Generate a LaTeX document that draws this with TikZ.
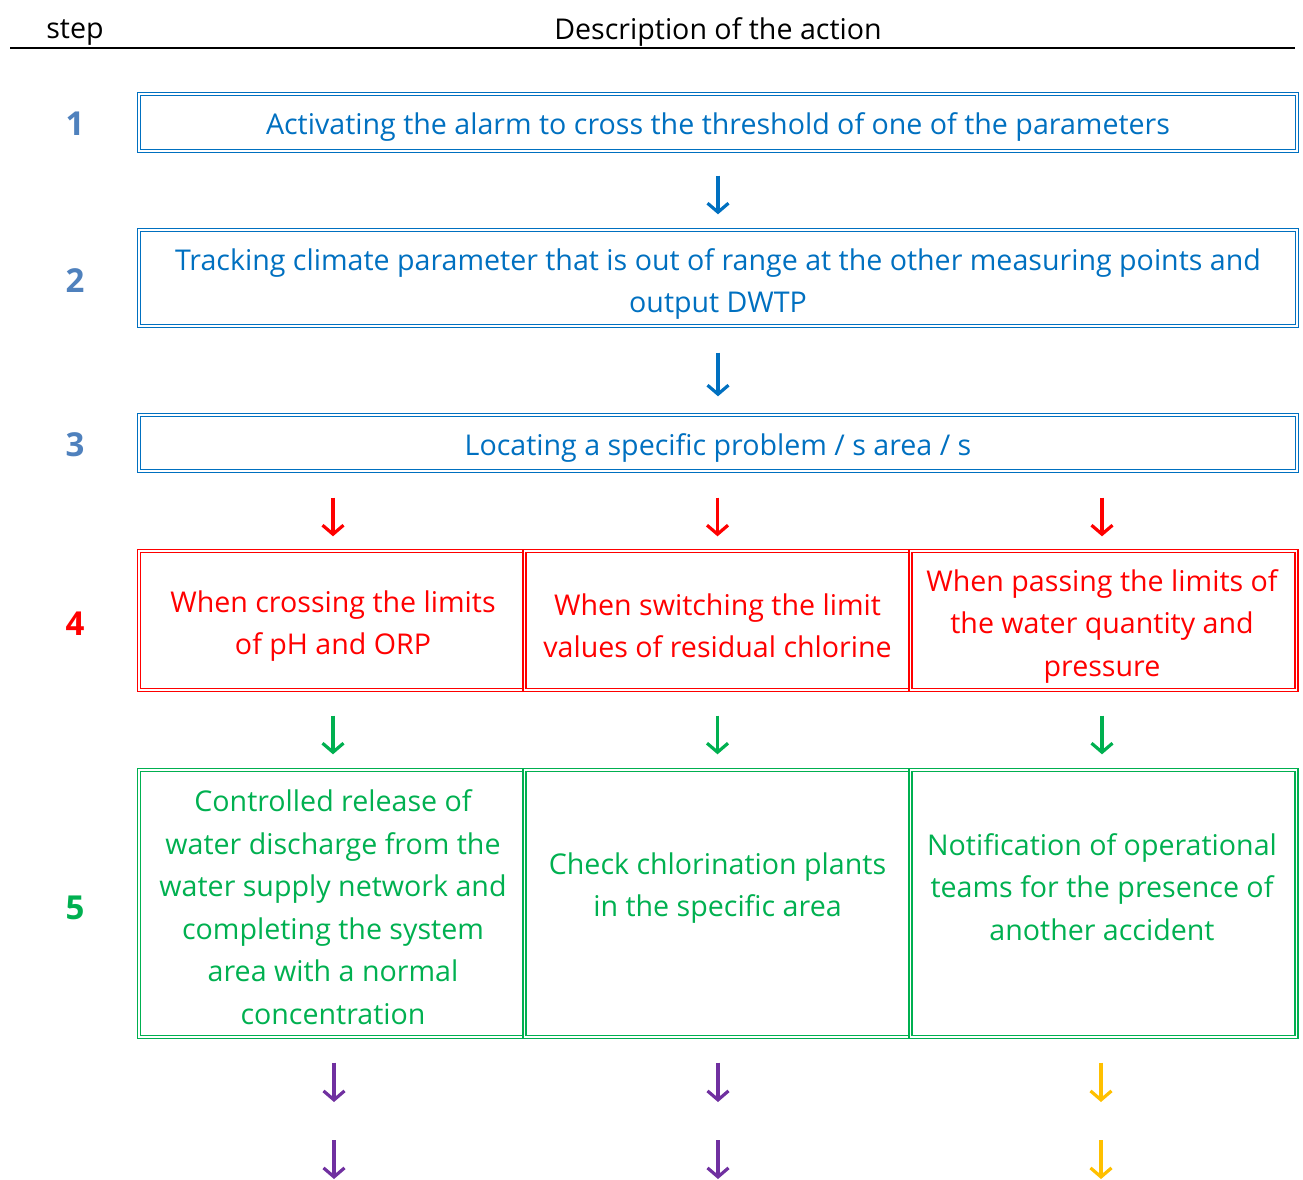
\documentclass[tikz,border=0pt]{standalone}
\usepackage{fontspec}
\setmainfont{Open Sans}
\usetikzlibrary{arrows.meta}

\definecolor{actblue}{HTML}{0070C0}
\definecolor{numblue}{HTML}{4F81BD}
\definecolor{actred}{HTML}{FF0000}
\definecolor{actgreen}{HTML}{00B050}
\definecolor{actpurple}{HTML}{7030A0}
\definecolor{actyellow}{HTML}{FFC000}

\begin{document}
\begin{tikzpicture}[x=1pt, y=-1pt]

\tikzset{
  frame/.style={draw, double, double distance=1.5pt, line width=1.4pt, inner sep=0pt},
  wide/.style={frame, minimum width=1158pt},
  cell/.style={frame, minimum width=386pt},
  txt/.style={align=center, inner sep=0pt, font=\fontsize{28.6}{42.5}\selectfont},
  num/.style={font=\fontsize{33}{36}\selectfont\bfseries},
  head/.style={font=\fontsize{28.6}{34}\selectfont},
  arr/.style={line width=3.2pt, -{Straight Barb[length=9pt, width=21pt]}},
}

\useasboundingbox (0,0) rectangle (1303,1179);

\node[head,name=hstep] at (75,33) {step};
\node[head,name=hdesc] at (718,32) {Description of the action};
\draw[line width=1.8pt] (10,48) -- (1295,48);

\node[num,text=numblue,name=n1] at (75,124) {1};
\node[num,text=numblue,name=n2] at (75,281) {2};
\node[num,text=numblue,name=n3] at (75,445) {3};
\node[num,text=actred,name=n4] at (75,624) {4};
\node[num,text=actgreen,name=n5] at (75,908) {5};

\node[wide,actblue,minimum height=57pt,name=b1] at (718,122.5) {};
\node[wide,actblue,minimum height=96pt,name=b2] at (718,278) {};
\node[wide,actblue,minimum height=56pt,name=b3] at (718,443) {};
\node[txt,text=actblue,name=t1] at (718,127) {Activating the alarm to cross the threshold of one of the parameters};
\node[txt,text=actblue,name=t2] at (718,284) {Tracking climate parameter that is out of range at the other measuring points and\\ output DWTP};
\node[txt,text=actblue,name=t3] at (718,448) {Locating a specific problem / s area / s};

\node[cell,actred,minimum height=139pt,name=c41] at (332,620.5) {};
\node[cell,actred,minimum height=139pt,name=c42] at (717.5,620.5) {};
\node[cell,actred,minimum height=139pt,name=c43] at (1103.5,620.5) {};
\node[txt,text=actred,name=t41] at (333,626) {When crossing the limits\\ of pH and ORP};
\node[txt,text=actred,name=t42] at (717.5,626) {When switching the limit\\ values of residual chlorine};
\node[txt,text=actred,name=t43] at (1102,626) {When passing the limits of\\ the water quantity and\\ pressure};

\node[cell,actgreen,minimum height=267pt,name=c51] at (332,903.5) {};
\node[cell,actgreen,minimum height=267pt,name=c52] at (717.5,903.5) {};
\node[cell,actgreen,minimum height=267pt,name=c53] at (1103.5,903.5) {};
\node[txt,text=actgreen,name=t51] at (333,907) {Controlled release of\\ water discharge from the\\ water supply network and\\ completing the system\\ area with a normal\\ concentration};
\node[txt,text=actgreen,name=t52] at (717.5,888) {Check chlorination plants\\ in the specific area};
\node[txt,text=actgreen,name=t53] at (1102,887) {Notification of operational\\ teams for the presence of\\ another accident};

\coordinate (e51) at (334,1102);
\coordinate (e52) at (718,1102);
\coordinate (e53) at (1101,1102);
\coordinate (s61) at (334,1140);
\coordinate (s62) at (718,1140);
\coordinate (s63) at (1101,1140);
\coordinate (e61) at (334,1179);
\coordinate (e62) at (718,1179);
\coordinate (e63) at (1101,1179);

\draw[arr,actblue,shorten <=24pt,shorten >=15pt] (b1) -- (b2);
\draw[arr,actblue,shorten <=26pt,shorten >=18pt] (b2) -- (b3);
\draw[arr,actred,shorten <=26pt,shorten >=14pt] (b3.south -| t41) -- (t41 |- c41.north);
\draw[arr,actred,shorten <=26pt,shorten >=14pt] (b3.south -| t42) -- (t42 |- c42.north);
\draw[arr,actred,shorten <=26pt,shorten >=14pt] (b3.south -| t43) -- (t43 |- c43.north);
\draw[arr,actgreen,shorten <=25pt,shorten >=15pt] (t41 |- c41.south) -- (t41 |- c51.north);
\draw[arr,actgreen,shorten <=25pt,shorten >=15pt] (t42 |- c42.south) -- (t42 |- c52.north);
\draw[arr,actgreen,shorten <=25pt,shorten >=15pt] (t43 |- c43.south) -- (t43 |- c53.north);
\draw[arr,actpurple,shorten <=25pt] (e51 |- c51.south) -- (e51);
\draw[arr,actpurple,shorten <=25pt] (e52 |- c52.south) -- (e52);
\draw[arr,actyellow,shorten <=25pt] (e53 |- c53.south) -- (e53);
\draw[arr,actpurple] (s61) -- (e61);
\draw[arr,actpurple] (s62) -- (e62);
\draw[arr,actyellow] (s63) -- (e63);

\end{tikzpicture}
\end{document}
